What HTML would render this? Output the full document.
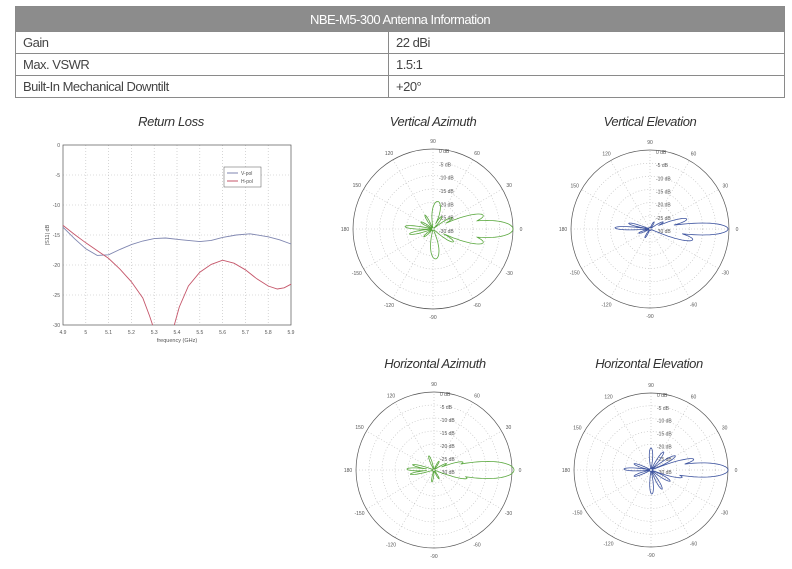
<!DOCTYPE html>
<html><head><meta charset="utf-8"><style>
body{margin:0;background:#fff;width:792px;height:569px;overflow:hidden;font-family:"Liberation Sans",sans-serif}
table{position:absolute;left:15px;top:6px;width:770px;border-collapse:collapse;font-size:13px;color:#444;letter-spacing:-0.5px}
td{border:1px solid #8a8a8a;height:21px;padding:0 0 0 7px}
th{background:#8c8c8c;color:#fff;font-weight:normal;height:22px;border:1px solid #8a8a8a}
.t{position:absolute;font-style:italic;font-size:13px;color:#333;letter-spacing:-0.4px;text-align:center;width:200px}
svg{position:absolute;left:0;top:0}
</style></head><body>
<table><tr><th colspan="2">NBE-M5-300 Antenna Information</th></tr>
<tr><td style="width:365px">Gain</td><td>22 dBi</td></tr>
<tr><td>Max. VSWR</td><td>1.5:1</td></tr>
<tr><td>Built-In Mechanical Downtilt</td><td>+20°</td></tr></table>
<div class="t" style="left:71px;top:114px">Return Loss</div>
<div class="t" style="left:333px;top:114px">Vertical Azimuth</div>
<div class="t" style="left:550px;top:114px">Vertical Elevation</div>
<div class="t" style="left:335px;top:356px">Horizontal Azimuth</div>
<div class="t" style="left:549px;top:356px">Horizontal Elevation</div>
<svg id="s" width="792" height="569" xmlns="http://www.w3.org/2000/svg" font-family="Liberation Sans, sans-serif"></svg>
<script>
var s=document.getElementById('s'),h='';
var X0=63,X1=291,Y0=145,Y1=325;
function px(f){return X0+(f-4.9)/1*(X1-X0)}function py(d){return Y0+(-d)/30*(Y1-Y0)}
for(var i=0;i<=10;i++){var x=px(4.9+i*0.1);if(i>0&&i<10)h+='<line x1="'+x+'" y1="'+Y0+'" x2="'+x+'" y2="'+Y1+'" stroke="#bbb" stroke-dasharray="1,2" stroke-width="0.6"/>';
h+='<text x="'+x+'" y="'+(Y1+9)+'" font-size="5" fill="#555" text-anchor="middle">'+(i==1?'5':(4.9+i*0.1).toFixed(1))+'</text>';}
for(var j=0;j<=6;j++){var y=py(-5*j);if(j>0&&j<6)h+='<line x1="'+X0+'" y1="'+y+'" x2="'+X1+'" y2="'+y+'" stroke="#bbb" stroke-dasharray="1,2" stroke-width="0.6"/>';
h+='<text x="'+(X0-3)+'" y="'+(y+2)+'" font-size="5" fill="#555" text-anchor="end">'+(j?-5*j:0)+'</text>';}
h+='<rect x="'+X0+'" y="'+Y0+'" width="'+(X1-X0)+'" height="'+(Y1-Y0)+'" fill="none" stroke="#555" stroke-width="0.7"/>';
h+='<text x="177" y="342" font-size="5.5" fill="#555" text-anchor="middle">frequency (GHz)</text>';
h+='<text x="49" y="235" font-size="5.5" fill="#555" text-anchor="middle" transform="rotate(-90 49 235)">|S11| dB</text>';
function pl(pts,c){var p=pts.map(function(a){return px(a[0]).toFixed(1)+','+py(a[1]).toFixed(1)}).join(' ');return '<polyline points="'+p+'" fill="none" stroke="'+c+'" stroke-width="0.9"/>'}
h+=pl([[4.9,-13.7],[4.95,-15.6],[5,-17.3],[5.05,-18.4],[5.1,-18.3],[5.15,-17.4],[5.2,-16.6],[5.25,-16],[5.3,-15.6],[5.35,-15.5],[5.42,-15.8],[5.5,-16.1],[5.55,-15.9],[5.6,-15.4],[5.66,-15],[5.72,-14.8],[5.8,-15.3],[5.85,-15.8],[5.9,-16.5]],'#7f86b0');
h+=pl([[4.9,-13.4],[4.95,-14.9],[5,-16.3],[5.05,-17.6],[5.1,-18.9],[5.15,-20.7],[5.2,-22.8],[5.25,-25.5],[5.28,-28.5],[5.293,-30]],'#c5566a');
h+=pl([[5.388,-30],[5.41,-27],[5.45,-23.5],[5.5,-21.2],[5.55,-19.9],[5.6,-19.2],[5.65,-19.7],[5.7,-20.8],[5.75,-22.3],[5.8,-23.5],[5.84,-24],[5.87,-23.8],[5.9,-23.2]],'#c5566a');
h+='<rect x="224" y="167" width="37" height="20" fill="#fff" stroke="#555" stroke-width="0.5"/>';
h+='<line x1="227" y1="173" x2="238" y2="173" stroke="#7f86b0"/><text x="241" y="175" font-size="5" fill="#555">V-pol</text>';
h+='<line x1="227" y1="181" x2="238" y2="181" stroke="#c5566a"/><text x="241" y="183" font-size="5" fill="#555">H-pol</text>';
function polar(cx,cy,R,lobes,col){
 var o='';
 for(var k=1;k<6;k++)o+='<circle cx="'+cx+'" cy="'+cy+'" r="'+(R*k/6).toFixed(1)+'" fill="none" stroke="#bbb" stroke-dasharray="1,2" stroke-width="0.6"/>';
 for(var a=0;a<180;a+=30){var t=a*Math.PI/180;o+='<line x1="'+(cx-R*Math.cos(t))+'" y1="'+(cy+R*Math.sin(t))+'" x2="'+(cx+R*Math.cos(t))+'" y2="'+(cy-R*Math.sin(t))+'" stroke="#bbb" stroke-dasharray="1,2" stroke-width="0.6"/>';}
 o+='<circle cx="'+cx+'" cy="'+cy+'" r="'+R+'" fill="none" stroke="#555" stroke-width="0.7"/>';
 var lab=[[0,'0'],[30,'30'],[60,'60'],[90,'90'],[120,'120'],[150,'150'],[180,'180'],[-150,'-150'],[-120,'-120'],[-90,'-90'],[-60,'-60'],[-30,'-30']];
 lab.forEach(function(l){var t=l[0]*Math.PI/180,rr=R+8;o+='<text x="'+(cx+rr*Math.cos(t)).toFixed(1)+'" y="'+(cy-rr*Math.sin(t)+2).toFixed(1)+'" font-size="5" fill="#555" text-anchor="middle">'+l[1]+'</text>';});
 for(var k=0;k<=6;k++)o+='<text x="'+(cx+6)+'" y="'+(cy-R+R*k/6+4).toFixed(1)+'" font-size="5" fill="#555">'+(k?'-'+5*k:'0')+' dB</text>';
 var p=[];for(var d=-180;d<=180;d+=0.5){var r=1.5;lobes.forEach(function(L){var dd=d-L[0];if(dd>180)dd-=360;if(dd<-180)dd+=360;if(Math.abs(dd)<L[2]){var v=L[1]*Math.pow(Math.cos(Math.PI/2*dd/L[2]),0.6);if(v>r)r=v;}});
  var t=d*Math.PI/180;p.push((cx+r*Math.cos(t)).toFixed(1)+','+(cy-r*Math.sin(t)).toFixed(1));}
 o+='<polygon points="'+p.join(' ')+'" fill="none" stroke="'+col+'" stroke-width="0.8"/>';
 return o;}
var G='#5aa83e',B='#3f55a0';
h+=polar(433,229,80,[[0,80,14],[15,52,10],[-15,52,10],[30,22,8],[-32,24,9],[80,28,18],[-85,30,18],[55,15,9],[175,28,7],[-168,24,7],[150,14,8],[-140,12,8],[120,16,7]],G);
h+=polar(650,229,79,[[0,78,10],[15,38,8],[-14,44,9],[28,15,7],[178,35,6],[165,22,6],[-160,12,7],[60,8,10],[-120,10,8]],B);
h+=polar(434,470,78,[[0,80,14],[15,30,7],[-14,34,7],[27,14,7],[178,27,7],[166,22,6],[-170,24,6],[110,15,8],[-100,12,8],[60,10,8],[-60,10,8]],G);
h+=polar(651,470,77,[[0,77,12],[14,44,7],[-13,32,7],[30,28,8],[-30,22,8],[55,22,8],[-60,22,8],[90,22,10],[-88,24,10],[178,27,7],[160,18,7],[-160,18,7]],B);
s.innerHTML=h;
</script>
</body></html>
